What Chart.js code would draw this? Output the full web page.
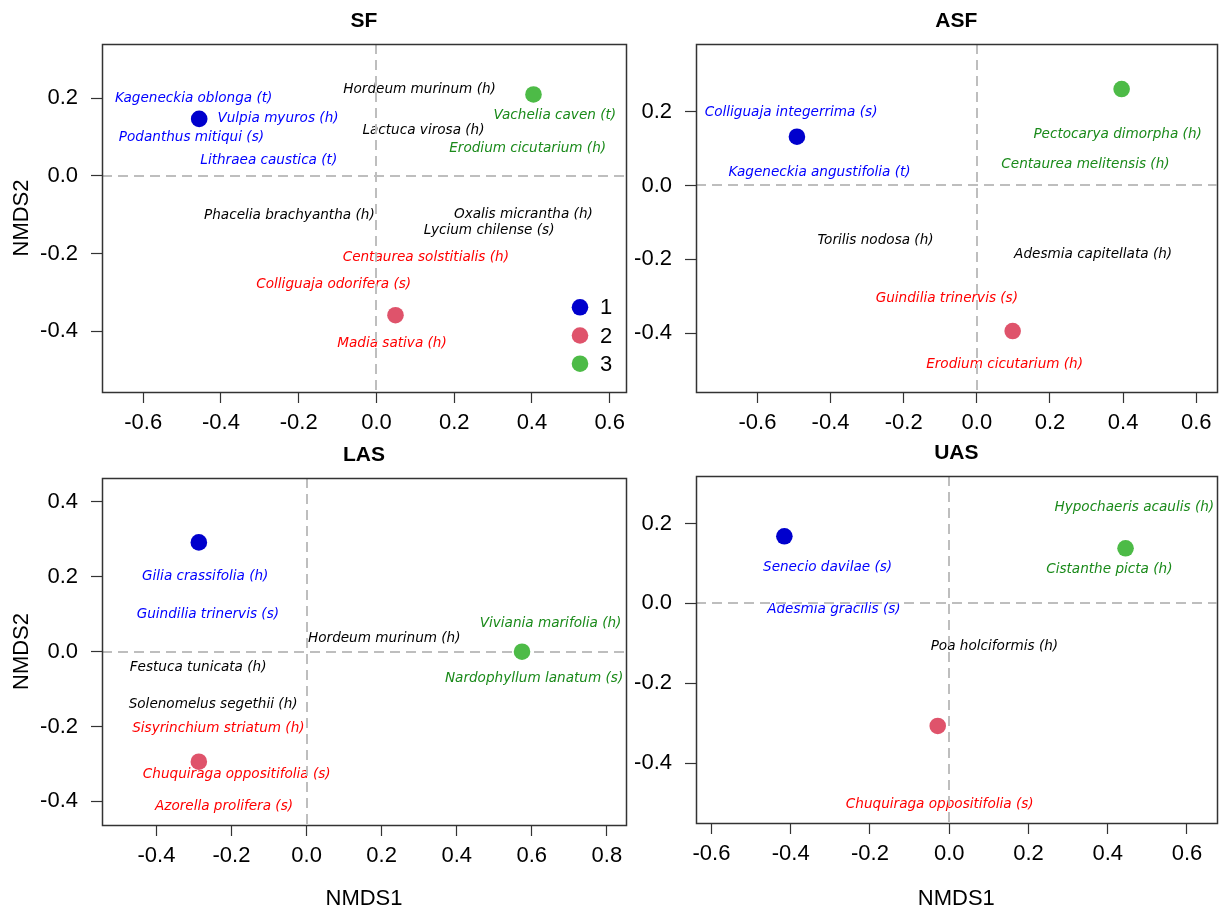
<!DOCTYPE html>
<html><head><meta charset="utf-8">
<script src="https://cdn.jsdelivr.net/npm/chart.js@4.4.1/dist/chart.umd.min.js"></script>
<style>
html,body{margin:0;padding:0;background:#fff;}
#wrap{position:relative;width:1225px;height:911px;overflow:hidden;background:#fff;}
#wrap canvas{position:absolute;}
</style></head><body>
<div id="wrap">
<canvas id="c0" width="640" height="440" style="left:0px;top:0px"></canvas>
<canvas id="c1" width="605" height="440" style="left:620px;top:0px"></canvas>
<canvas id="c2" width="640" height="471" style="left:0px;top:440px"></canvas>
<canvas id="c3" width="605" height="471" style="left:620px;top:440px"></canvas>
</div>
<script>
// ---------- data ----------
const groups = ['1', '2', '3'];
const pointColors = ['#0000CD', '#DF536B', '#4DBB47'];
const textColors = ['#000000', '#0000FF', '#FF0000', '#1A8A1A']; // 0 = unassigned (black)

// SF
const sfPointX = [-0.456, 0.049, 0.404];
const sfPointY = [0.147, -0.359, 0.210];
const sfLabels = ['Kageneckia oblonga (t)', 'Vulpia myuros (h)', 'Podanthus mitiqui (s)', 'Lithraea caustica (t)',
  'Hordeum murinum (h)', 'Lactuca virosa (h)', 'Vachelia caven (t)', 'Erodium cicutarium (h)',
  'Phacelia brachyantha (h)', 'Oxalis micrantha (h)', 'Lycium chilense (s)', 'Centaurea solstitialis (h)',
  'Colliguaja odorifera (s)', 'Madia sativa (h)'];
const sfLabelX = [-0.470, -0.253, -0.476, -0.277, 0.111, 0.121, 0.459, 0.389, -0.224, 0.378, 0.290, 0.127, -0.110, 0.040];
const sfLabelY = [0.200, 0.149, 0.099, 0.039, 0.222, 0.117, 0.155, 0.070, -0.103, -0.099, -0.141, -0.209, -0.281, -0.432];
const sfLabelGroup = [1, 1, 1, 1, 0, 0, 3, 3, 0, 0, 0, 2, 2, 2];
const sfXTicks = [-0.6, -0.4, -0.2, 0.0, 0.2, 0.4, 0.6];
const sfYTicks = [-0.4, -0.2, 0.0, 0.2];
const sfXRange = [-0.706, 0.642];
const sfYRange = [-0.557, 0.340];

// ASF
const asfPointX = [-0.492, 0.098, 0.396];
const asfPointY = [0.132, -0.394, 0.261];
const asfLabels = ['Colliguaja integerrima (s)', 'Kageneckia angustifolia (t)', 'Pectocarya dimorpha (h)',
  'Centaurea melitensis (h)', 'Torilis nodosa (h)', 'Adesmia capitellata (h)', 'Guindilia trinervis (s)',
  'Erodium cicutarium (h)'];
const asfLabelX = [-0.508, -0.430, 0.385, 0.297, -0.277, 0.318, -0.082, 0.076];
const asfLabelY = [0.197, 0.036, 0.139, 0.057, -0.148, -0.186, -0.307, -0.485];
const asfLabelGroup = [1, 1, 3, 3, 0, 0, 2, 2];
const asfXTicks = [-0.6, -0.4, -0.2, 0.0, 0.2, 0.4, 0.6];
const asfYTicks = [-0.4, -0.2, 0.0, 0.2];
const asfXRange = [-0.768, 0.656];
const asfYRange = [-0.559, 0.383];

// LAS
const lasPointX = [-0.287, -0.287, 0.574];
const lasPointY = [0.292, -0.294, 0.000];
const lasLabels = ['Gilia crassifolia (h)', 'Guindilia trinervis (s)', 'Viviania marifolia (h)', 'Hordeum murinum (h)',
  'Nardophyllum lanatum (s)', 'Festuca tunicata (h)', 'Solenomelus segethii (h)', 'Sisyrinchium striatum (h)',
  'Chuquiraga oppositifolia (s)', 'Azorella prolifera (s)'];
const lasLabelX = [-0.270, -0.263, 0.650, 0.207, 0.606, -0.289, -0.249, -0.235, -0.186, -0.220];
const lasLabelY = [0.202, 0.099, 0.076, 0.035, -0.072, -0.041, -0.140, -0.204, -0.328, -0.414];
const lasLabelGroup = [1, 1, 3, 0, 3, 0, 0, 2, 2, 2];
const lasXTicks = [-0.4, -0.2, 0.0, 0.2, 0.4, 0.6, 0.8];
const lasYTicks = [-0.4, -0.2, 0.0, 0.2, 0.4];
const lasXRange = [-0.545, 0.851];
const lasYRange = [-0.463, 0.464];

// UAS
const uasPointX = [-0.416, -0.029, 0.445];
const uasPointY = [0.168, -0.307, 0.138];
const uasLabels = ['Hypochaeris acaulis (h)', 'Senecio davilae (s)', 'Cistanthe picta (h)', 'Adesmia gracilis (s)',
  'Poa holciformis (h)', 'Chuquiraga oppositifolia (s)'];
const uasLabelX = [0.467, -0.307, 0.404, -0.291, 0.114, -0.024];
const uasLabelY = [0.239, 0.091, 0.085, -0.014, -0.109, -0.503];
const uasLabelGroup = [3, 1, 3, 1, 0, 2];
const uasXTicks = [-0.6, -0.4, -0.2, 0.0, 0.2, 0.4, 0.6];
const uasYTicks = [-0.4, -0.2, 0.0, 0.2];
const uasXRange = [-0.639, 0.675];
const uasYRange = [-0.550, 0.319];

// ---------- drawing ----------
const SANS = '"Liberation Sans", Arial, Helvetica, sans-serif';
const LABEL_FONT = 'italic 13.6px "DejaVu Sans", sans-serif';

const decor = {
  id: 'decor',
  beforeDatasetsDraw(chart, args, o) {
    const {ctx, chartArea: a, scales: {x, y}} = chart;
    ctx.save();
    ctx.beginPath(); ctx.rect(a.left, a.top, a.width, a.height); ctx.clip();
    // species labels
    ctx.font = LABEL_FONT;
    ctx.textAlign = 'center';
    ctx.textBaseline = 'middle';
    o.labels.forEach((t, i) => {
      ctx.fillStyle = textColors[o.labelGroup[i]];
      ctx.fillText(t, x.getPixelForValue(o.labelX[i]), y.getPixelForValue(o.labelY[i]));
    });
    // dashed zero lines
    ctx.strokeStyle = '#BEBEBE';
    ctx.lineWidth = 2;
    ctx.setLineDash([10, 6]);
    const x0 = Math.round(x.getPixelForValue(0));
    const y0 = Math.round(y.getPixelForValue(0));
    ctx.beginPath();
    ctx.moveTo(a.left, y0); ctx.lineTo(a.right, y0);
    ctx.moveTo(x0, a.top); ctx.lineTo(x0, a.bottom);
    ctx.stroke();
    ctx.restore();
  },
  afterDraw(chart, args, o) {
    const {ctx, chartArea: a} = chart;
    ctx.save();
    ctx.strokeStyle = '#333333';
    ctx.lineWidth = 1.5;
    ctx.strokeRect(Math.round(a.left) + 0.5, Math.round(a.top) + 0.5, Math.round(a.width), Math.round(a.height));
    if (o.legend) {
      ctx.font = '22px ' + SANS;
      ctx.textAlign = 'left';
      ctx.textBaseline = 'middle';
      chart.data.datasets.forEach((ds, i) => {
        const cx = a.right - 46, cy = a.bottom - 84.7 + i * 28.2;
        ctx.fillStyle = ds.backgroundColor;
        ctx.beginPath(); ctx.arc(cx, cy, 8.3, 0, Math.PI * 2); ctx.fill();
        ctx.fillStyle = '#000';
        ctx.fillText(ds.label, cx + 20, cy + 1);
      });
    }
    ctx.restore();
  }
};

const fmt = v => (Math.abs(v) < 1e-9 ? 0 : v).toFixed(1);

function makeChart(id, p) {
  return new Chart(document.getElementById(id), {
    type: 'scatter',
    data: {
      datasets: groups.map((g, i) => ({
        label: g,
        data: [{x: p.px[i], y: p.py[i]}],
        backgroundColor: pointColors[i],
        borderWidth: 0,
        pointRadius: 8.3,
        pointHoverRadius: 8.3
      }))
    },
    options: {
      responsive: false,
      animation: false,
      devicePixelRatio: 1,
      events: [],
      layout: {padding: {left: 0, right: p.padRight, top: 0, bottom: 0}},
      plugins: {
        legend: {display: false},
        tooltip: {enabled: false},
        title: {
          display: true, text: p.title, fullSize: false, color: '#000',
          font: {family: SANS, size: 21, weight: 'bold', lineHeight: '24px'},
          padding: {top: p.titleTop, bottom: p.titleBottom}
        },
        decor: {labels: p.labels, labelX: p.lx, labelY: p.ly, labelGroup: p.lg, legend: p.legend}
      },
      scales: {
        x: {
          type: 'linear', position: 'bottom', min: p.xr[0], max: p.xr[1],
          afterBuildTicks: s => { s.ticks = p.xt.map(v => ({value: v})); },
          afterFit: s => { s.height = p.xH; },
          grid: {drawOnChartArea: false, drawTicks: true, tickLength: 11, tickColor: '#333333', tickWidth: 1.2},
          border: {display: false},
          ticks: {padding: 7, color: '#000', font: {family: SANS, size: 22}, maxRotation: 0, autoSkip: false, callback: v => fmt(v)},
          title: {display: p.xTitle, text: 'NMDS1', color: '#000', font: {family: SANS, size: 22, lineHeight: '22px'}, padding: {top: 0, bottom: 1}}
        },
        y: {
          type: 'linear', position: 'left', min: p.yr[0], max: p.yr[1],
          afterBuildTicks: s => { s.ticks = p.yt.map(v => ({value: v})); },
          afterFit: s => { s.width = p.yW; },
          grid: {drawOnChartArea: false, drawTicks: true, tickLength: 11, tickColor: '#333333', tickWidth: 1.2},
          border: {display: false},
          ticks: {padding: 13, color: '#000', font: {family: SANS, size: 22}, autoSkip: false, callback: v => fmt(v)},
          title: {display: p.yTitle, text: 'NMDS2', color: '#000', font: {family: SANS, size: 22, lineHeight: '22px'}, padding: {top: 11, bottom: 0}}
        }
      }
    },
    plugins: [decor]
  });
}

makeChart('c0', {title: 'SF', px: sfPointX, py: sfPointY, labels: sfLabels, lx: sfLabelX, ly: sfLabelY, lg: sfLabelGroup,
  xt: sfXTicks, yt: sfYTicks, xr: sfXRange, yr: sfYRange, legend: true,
  padRight: 14, yW: 102, xH: 48, titleTop: 9, titleBottom: 11, xTitle: false, yTitle: true});
makeChart('c1', {title: 'ASF', px: asfPointX, py: asfPointY, labels: asfLabels, lx: asfLabelX, ly: asfLabelY, lg: asfLabelGroup,
  xt: asfXTicks, yt: asfYTicks, xr: asfXRange, yr: asfYRange, legend: false,
  padRight: 4, yW: 76, xH: 48, titleTop: 9, titleBottom: 11, xTitle: false, yTitle: false});
makeChart('c2', {title: 'LAS', px: lasPointX, py: lasPointY, labels: lasLabels, lx: lasLabelX, ly: lasLabelY, lg: lasLabelGroup,
  xt: lasXTicks, yt: lasYTicks, xr: lasXRange, yr: lasYRange, legend: false,
  padRight: 14, yW: 102, xH: 86, titleTop: 3, titleBottom: 11, xTitle: true, yTitle: true});
makeChart('c3', {title: 'UAS', px: uasPointX, py: uasPointY, labels: uasLabels, lx: uasLabelX, ly: uasLabelY, lg: uasLabelGroup,
  xt: uasXTicks, yt: uasYTicks, xr: uasXRange, yr: uasYRange, legend: false,
  padRight: 4, yW: 76, xH: 88, titleTop: 1, titleBottom: 11, xTitle: true, yTitle: false});
</script>
</body></html>
